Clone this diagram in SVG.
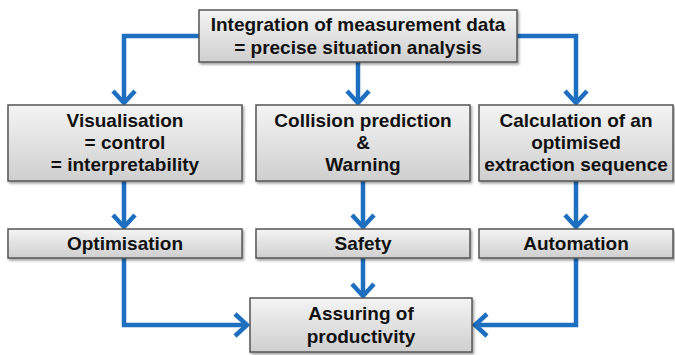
<svg xmlns="http://www.w3.org/2000/svg" width="675" height="355" viewBox="0 0 675 355">
<defs>
<linearGradient id="g" x1="0" y1="0" x2="0" y2="1">
<stop offset="0" stop-color="#f4f4f4"/>
<stop offset="1" stop-color="#cfcfcf"/>
</linearGradient>
<filter id="sh" x="-5%" y="-5%" width="110%" height="120%">
<feDropShadow dx="1.5" dy="2" stdDeviation="1.2" flood-color="#000" flood-opacity="0.35"/>
</filter>
</defs>
<style>
.box{fill:url(#g);stroke:#555;stroke-width:1.5;filter:url(#sh)}
.t{font-family:"Liberation Sans",Arial,sans-serif;font-weight:bold;font-size:19px;fill:#111;text-anchor:middle}
.c{fill:none;stroke:#1f6fc1;stroke-width:4.5;stroke-linejoin:miter}
.h{fill:none;stroke:#1f6fc1;stroke-width:4.5;stroke-linecap:butt;stroke-linejoin:miter}
</style>
<g id="connectors">
<path class="c" d="M199,36 H124 V100"/>
<path class="h" d="M113,91 L124,103 L135,91"/>
<path class="c" d="M358,62 V100"/>
<path class="h" d="M347,91 L358,103 L369,91"/>
<path class="c" d="M517,36 H576 V100"/>
<path class="h" d="M565,91 L576,103 L587,91"/>
<path class="c" d="M124,181 V224"/>
<path class="h" d="M113,215 L124,227 L135,215"/>
<path class="c" d="M363,181 V224"/>
<path class="h" d="M352,215 L363,227 L374,215"/>
<path class="c" d="M576,181 V224"/>
<path class="h" d="M565,215 L576,227 L587,215"/>
<path class="c" d="M363,258 V293"/>
<path class="h" d="M352,284 L363,296 L374,284"/>
<path class="c" d="M124,258 V325 H245"/>
<path class="h" d="M235,314 L247,325 L235,336"/>
<path class="c" d="M576,258 V325 H477"/>
<path class="h" d="M487,314 L475,325 L487,336"/>
</g>
<g id="n_top">
<rect class="box" x="199" y="10" width="318" height="52"/>
<text class="t" x="358" y="31">Integration of measurement data</text>
<text class="t" x="358" y="54">= precise situation analysis</text>
</g>
<g id="n_vis">
<rect class="box" x="8" y="105" width="234" height="76"/>
<text class="t" x="125" y="127">Visualisation</text>
<text class="t" x="125" y="149">= control</text>
<text class="t" x="125" y="171">= interpretability</text>
</g>
<g id="n_col">
<rect class="box" x="256" y="105" width="214" height="76"/>
<text class="t" x="363" y="127">Collision prediction</text>
<text class="t" x="363" y="149">&amp;</text>
<text class="t" x="363" y="171">Warning</text>
</g>
<g id="n_calc">
<rect class="box" x="479" y="105" width="194" height="76"/>
<text class="t" x="576" y="127">Calculation of an</text>
<text class="t" x="576" y="149">optimised</text>
<text class="t" x="576" y="171">extraction sequence</text>
</g>
<g id="n_opt">
<rect class="box" x="8" y="229" width="234" height="29"/>
<text class="t" x="125" y="250">Optimisation</text>
</g>
<g id="n_saf">
<rect class="box" x="256" y="229" width="214" height="29"/>
<text class="t" x="363" y="250">Safety</text>
</g>
<g id="n_aut">
<rect class="box" x="479" y="229" width="194" height="29"/>
<text class="t" x="576" y="250">Automation</text>
</g>
<g id="n_ass">
<rect class="box" x="250" y="298" width="222" height="54"/>
<text class="t" x="361" y="320">Assuring of</text>
<text class="t" x="361" y="343">productivity</text>
</g>
</svg>
